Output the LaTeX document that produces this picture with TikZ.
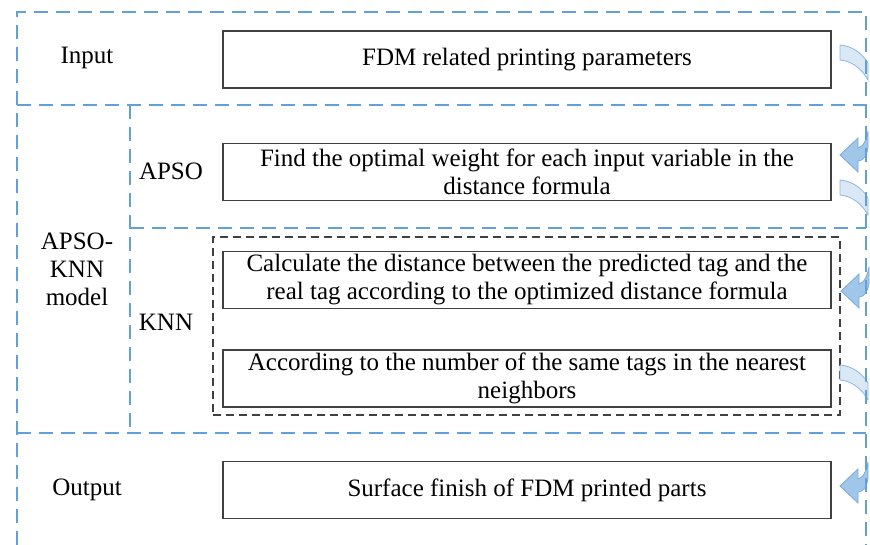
\documentclass[tikz,border=0pt]{standalone}
\usepackage{fontspec}
\setmainfont{Liberation Serif}
\begin{document}
\begin{tikzpicture}[x=1pt,y=-1pt]
\definecolor{frameblue}{RGB}{98,160,220}
\definecolor{boxgray}{RGB}{64,64,64}
\definecolor{ribfill}{RGB}{218,232,246}
\definecolor{ribdraw}{RGB}{140,184,225}
\definecolor{arrfill}{RGB}{160,198,233}
\definecolor{arrdraw}{RGB}{120,170,220}
\tikzset{
  frame/.style={draw=frameblue, line width=1.8pt, dash pattern=on 14pt off 8pt},
  stepbox/.style={draw=boxgray, line width=1.4pt, minimum width=608pt, minimum height=57pt, align=center, font=\fontsize{25}{28}\selectfont, inner sep=0pt},
  lbl/.style={font=\fontsize{25}{28}\selectfont, align=center, inner sep=0pt},
  ribbon/.style={fill=ribfill, draw=ribdraw, line width=0.8pt},
  inarrow/.style={fill=arrfill, draw=arrdraw, line width=0.8pt}
}
\useasboundingbox (0,0) rectangle (870,545);

% boxes
\node[stepbox] (inbox) at (527,59.5) {FDM related printing parameters};
\node[stepbox] (apsobox) at (527,172) {Find the optimal weight for each input variable in the\\distance formula};
\node[stepbox] (calcbox) at (527,280) {Calculate the distance between the predicted tag and the\\real tag according to the optimized distance formula};
\node[stepbox] (accbox) at (527,378.5) {According to the number of the same tags in the nearest\\neighbors};
\node[stepbox] (outbox) at (527,490) {Surface finish of FDM printed parts};
\node[draw=boxgray, line width=1.4pt, dash pattern=on 8pt off 5pt, minimum width=627pt, minimum height=178pt, inner sep=0pt] (knnbox) at (526.5,326) {};

% labels
\node[lbl] (linput) at (87,58) {Input};
\node[lbl] (lapso) at (171,171) {APSO};
\node[lbl] (lmodel) at (77,269) {APSO-\\KNN\\model};
\node[lbl] (lknn) at (166,322) {KNN};
\node[lbl] (loutput) at (87,490) {Output};

% ribbons (curved out)
\foreach \lx/\ly in {840/45, 840/180, 840/365}{
  \draw[ribbon] (\lx,\ly) .. controls +(12,1) and +(-6,-10) .. (\lx+28,\ly+18)
     -- (\lx+28,\ly+35) .. controls +(-6,-11) and +(12,1) .. (\lx,\ly+15) -- cycle;
}
% in arrows (curved left)
\foreach \tx/\ty in {840/155, 841/291, 840/486}{
  \draw[inarrow] (\tx,\ty) -- (\tx+18,\ty-17) -- (\tx+18,\ty-7)
     .. controls +(6,-1) and +(-1,6) .. (\tx+28,\ty-24)
     -- (\tx+28,\ty-8) .. controls +(-1,8) and +(6,0) .. (\tx+18,\ty+6)
     -- (\tx+18,\ty+17) -- cycle;
}

% frame
\coordinate (tl) at (17,12);
\coordinate (tr) at (866,12);
\coordinate (bl) at (17,545);
\coordinate (br) at (866,545);
\draw[frame] (bl) -- (tl) -- (tr) -- (br);
\coordinate (d1l) at (17,105); \coordinate (d1r) at (866,105);
\coordinate (d2l) at (17,433); \coordinate (d2r) at (866,433);
\coordinate (d3l) at (130,228); \coordinate (d3r) at (866,228);
\coordinate (v1t) at (130,105); \coordinate (v1b) at (130,433);
\draw[frame] (d1l) -- (d1r);
\draw[frame] (d2l) -- (d2r);
\draw[frame] (d3l) -- (d3r);
\draw[frame] (v1t) -- (v1b);
\end{tikzpicture}
\end{document}
